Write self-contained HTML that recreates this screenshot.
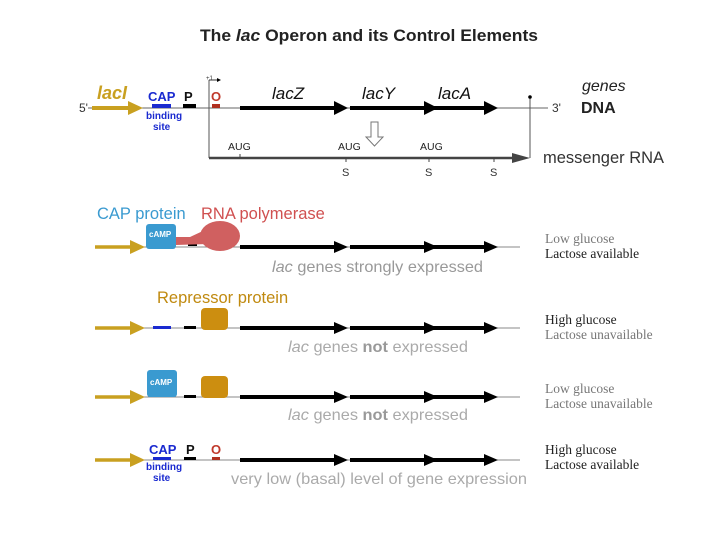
<!DOCTYPE html>
<html><head><style>body{margin:0;background:#fff}svg{display:block}text{font-family:"Liberation Sans",sans-serif}.s{font-family:"Liberation Serif",serif!important}</style></head><body>
<svg width="720" height="540" viewBox="0 0 720 540">
<defs>
<marker id="h" markerWidth="4" markerHeight="4" refX="3" refY="2" orient="auto" markerUnits="strokeWidth"><path d="M0,0L4,2L0,4z" fill="#000"/></marker>
</defs>
<text x="200" y="41" font-size="17" font-weight="bold" fill="#222" textLength="338" lengthAdjust="spacingAndGlyphs">The <tspan font-style="italic">lac</tspan> Operon and its Control Elements</text>
<!-- top DNA -->
<line x1="88" y1="108" x2="548" y2="108" stroke="#666" stroke-width="1"/>
<text x="79" y="112" font-size="12" fill="#333">5'</text>
<text x="552" y="112" font-size="12" fill="#333">3'</text>
<line x1="92" y1="108" x2="130" y2="108" stroke="#c9a020" stroke-width="4"/><path d="M128,101L143,108L128,115z" fill="#c9a020"/>
<text x="97" y="99" font-size="18" font-weight="bold" font-style="italic" fill="#c9a020">lacI</text>
<text x="148" y="101" font-size="13" font-weight="bold" fill="#1a2ad0">CAP</text>
<rect x="152" y="104" width="19" height="4" fill="#1a2ad0"/>
<text x="146" y="119" font-size="10" font-weight="bold" fill="#1a2ad0">binding</text>
<text x="153" y="130" font-size="10" font-weight="bold" fill="#1a2ad0">site</text>
<text x="184" y="101" font-size="13" font-weight="bold" fill="#111">P</text>
<rect x="183" y="104" width="13" height="4" fill="#000"/>
<text x="211" y="101" font-size="13" font-weight="bold" fill="#c0392b">O</text>
<rect x="212" y="104" width="8" height="4" fill="#b03020"/>
<line x1="209" y1="80" x2="209" y2="158" stroke="#555"/>
<line x1="209" y1="80" x2="220" y2="80" stroke="#333" marker-end="url(#h)"/>
<text x="206" y="80" font-size="6" fill="#333">+1</text>
<line x1="240" y1="108" x2="335" y2="108" stroke="#000" stroke-width="4"/><path d="M334,101L348,108L334,115z"/>
<line x1="350" y1="108" x2="425" y2="108" stroke="#000" stroke-width="4"/><path d="M424,101L438,108L424,115z"/>
<line x1="433" y1="108" x2="485" y2="108" stroke="#000" stroke-width="4"/><path d="M484,101L498,108L484,115z"/>
<text x="272" y="99" font-size="17" font-style="italic" fill="#111">lacZ</text>
<text x="362" y="99" font-size="17" font-style="italic" fill="#111">lacY</text>
<text x="438" y="99" font-size="17" font-style="italic" fill="#111">lacA</text>
<line x1="530" y1="97" x2="530" y2="158" stroke="#555"/><circle cx="530" cy="97" r="1.8" fill="#000"/>
<text x="582" y="91" font-size="16" font-style="italic" fill="#222">genes</text>
<text x="581" y="113" font-size="16" font-weight="bold" fill="#222">DNA</text>
<path d="M371,122h7v15h5l-8.5,9l-8.5,-9h5z" fill="#fff" stroke="#777"/>
<line x1="209" y1="158" x2="515" y2="158" stroke="#444" stroke-width="2.5"/><path d="M512,153L530,158L512,163z" fill="#444"/>
<text x="228" y="150" font-size="10.5" fill="#222">AUG</text>
<text x="338" y="150" font-size="10.5" fill="#222">AUG</text>
<text x="420" y="150" font-size="10.5" fill="#222">AUG</text>
<g stroke="#444"><line x1="240" y1="154" x2="240" y2="158"/><line x1="346" y1="158" x2="346" y2="162"/><line x1="429" y1="158" x2="429" y2="162"/><line x1="494" y1="158" x2="494" y2="162"/></g>
<text x="342" y="176" font-size="11" fill="#333">S</text>
<text x="425" y="176" font-size="11" fill="#333">S</text>
<text x="490" y="176" font-size="11" fill="#333">S</text>
<text x="543" y="163" font-size="16.5" fill="#333">messenger RNA</text>

<!-- rows -->
<g id="r1">
<line x1="140" y1="247" x2="520" y2="247" stroke="#888"/>
<line x1="95" y1="247" x2="132" y2="247" stroke="#c9a020" stroke-width="3.5"/><path d="M130,240L145,247L130,254z" fill="#c9a020"/>
<line x1="240" y1="247" x2="335" y2="247" stroke="#000" stroke-width="4"/><path d="M334,241L348,247L334,253z"/>
<line x1="350" y1="247" x2="425" y2="247" stroke="#000" stroke-width="4"/><path d="M424,241L438,247L424,253z"/>
<line x1="433" y1="247" x2="485" y2="247" stroke="#000" stroke-width="4"/><path d="M484,241L498,247L484,253z"/>
</g>
<text x="97" y="219" font-size="16.5" fill="#3a9ad0">CAP protein</text>
<text x="201" y="219" font-size="16.5" fill="#d05050">RNA polymerase</text>
<rect x="188" y="243" width="9" height="3" fill="#000"/>
<path d="M176,237L190,237L205,230L208,244L176,245z" fill="#d06060"/>
<ellipse cx="220" cy="236" rx="20" ry="15" fill="#d06060"/>
<rect x="146" y="224" width="30" height="25" rx="3" fill="#3a9ad0"/>
<text x="149" y="237" font-size="8" font-weight="bold" fill="#fff">cAMP</text>
<text x="272" y="272" font-size="16" fill="#999" textLength="211" lengthAdjust="spacingAndGlyphs"><tspan font-style="italic">lac</tspan> genes strongly expressed</text>
<text x="545" y="243" font-size="13.5" fill="#777" class="s">Low glucose</text>
<text x="545" y="258" font-size="13.5" fill="#222" class="s">Lactose available</text>

<use href="#r1" transform="translate(0,81)"/>
<text x="157" y="303" font-size="16.5" fill="#c08a10">Repressor protein</text>
<rect x="153" y="326" width="18" height="3" fill="#1a2ad0"/>
<rect x="184" y="326" width="12" height="3" fill="#000"/>
<rect x="201" y="308" width="27" height="22" rx="4" fill="#cc8e10"/>
<text x="288" y="352" font-size="16" fill="#aaa" textLength="180" lengthAdjust="spacingAndGlyphs"><tspan font-style="italic">lac</tspan> genes <tspan font-weight="bold" fill="#999">not</tspan> expressed</text>
<text x="545" y="324" font-size="13.5" fill="#222" class="s">High glucose</text>
<text x="545" y="339" font-size="13.5" fill="#777" class="s">Lactose unavailable</text>

<use href="#r1" transform="translate(0,150)"/>
<rect x="184" y="395" width="12" height="3" fill="#000"/>
<rect x="147" y="370" width="30" height="27" rx="3" fill="#3a9ad0"/>
<text x="150" y="385" font-size="8" font-weight="bold" fill="#fff">cAMP</text>
<rect x="201" y="376" width="27" height="22" rx="4" fill="#cc8e10"/>
<text x="288" y="420" font-size="16" fill="#aaa" textLength="180" lengthAdjust="spacingAndGlyphs"><tspan font-style="italic">lac</tspan> genes <tspan font-weight="bold" fill="#999">not</tspan> expressed</text>
<text x="545" y="393" font-size="13.5" fill="#777" class="s">Low glucose</text>
<text x="545" y="408" font-size="13.5" fill="#777" class="s">Lactose unavailable</text>

<use href="#r1" transform="translate(0,213)"/>
<text x="149" y="454" font-size="13" font-weight="bold" fill="#1a2ad0">CAP</text>
<rect x="153" y="457" width="18" height="3" fill="#1a2ad0"/>
<text x="146" y="470" font-size="10" font-weight="bold" fill="#1a2ad0">binding</text>
<text x="153" y="481" font-size="10" font-weight="bold" fill="#1a2ad0">site</text>
<text x="186" y="454" font-size="13" font-weight="bold" fill="#111">P</text>
<rect x="184" y="457" width="12" height="3" fill="#000"/>
<text x="211" y="454" font-size="13" font-weight="bold" fill="#c0392b">O</text>
<rect x="212" y="457" width="8" height="3" fill="#b03020"/>
<text x="231" y="484" font-size="16" fill="#aaa" textLength="296" lengthAdjust="spacingAndGlyphs">very low (basal) level of gene expression</text>
<text x="545" y="454" font-size="13.5" fill="#222" class="s">High glucose</text>
<text x="545" y="469" font-size="13.5" fill="#222" class="s">Lactose available</text>
</svg>
</body></html>
